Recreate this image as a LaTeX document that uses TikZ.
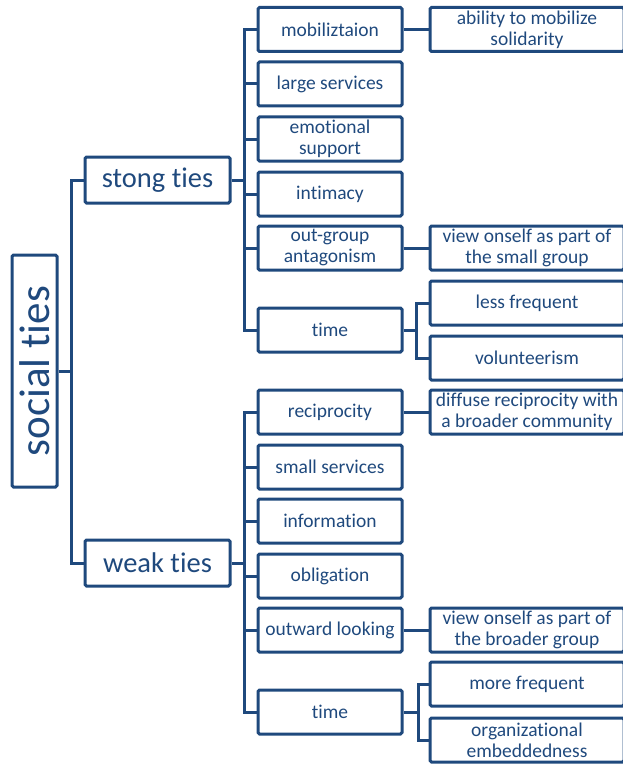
\documentclass[tikz,border=0pt]{standalone}
\usepackage{fontspec}
\setmainfont{Carlito}[RawFeature={-liga}]
\definecolor{tieblue}{RGB}{31,73,125}
\begin{document}
\begin{tikzpicture}[x=1pt,y=-1pt,
  every node/.style={draw=tieblue, line width=3pt, rounded corners=1.5pt, text=tieblue, align=center, inner sep=0pt},
  rootbox/.style={minimum width=232pt, minimum height=45pt, rotate=90, font=\fontsize{43}{46}\selectfont},
  lvlone/.style={minimum width=145pt, minimum height=46pt, font=\fontsize{28.5}{30}\selectfont},
  lvltwo/.style={minimum width=144pt, minimum height=44pt, font=\fontsize{19.5}{21}\selectfont},
  lvlthree/.style={minimum width=194pt, minimum height=44pt, font=\fontsize{19.5}{21}\selectfont},
  conn/.style={draw=tieblue, line width=3pt}
]
\useasboundingbox (0,0) rectangle (623,765);
\clip (0,0) rectangle (623,765);

\node[rootbox] (root) at (34.5,371) {social ties};
\node[lvlone] (strong) at (157.5,180) {stong ties};
\node[lvlone] (weak) at (157.5,563) {weak ties};

% strong ties children
\node[lvltwo] (mob) at (330,29.5) {mobiliztaion};
\node[lvltwo] (large) at (330,84) {large services};
\node[lvltwo] (emo) at (330,139) {emotional\\support};
\node[lvltwo] (inti) at (330,194) {intimacy};
\node[lvltwo] (outg) at (330,248) {out-group\\antagonism};
\node[lvltwo] (timeA) at (330,330) {time};

\node[lvlthree] (abil) at (527,29.5) {ability to mobilize\\solidarity};
\node[lvlthree] (viewA) at (527,248) {view onself as part of\\the small group};
\node[lvlthree] (less) at (527,303) {less frequent};
\node[lvlthree] (volu) at (527,358) {volunteerism};

% weak ties children
\node[lvltwo] (reci) at (330,412) {reciprocity};
\node[lvltwo] (small) at (330,467) {small services};
\node[lvltwo] (info) at (330,521) {information};
\node[lvltwo] (obli) at (330,576) {obligation};
\node[lvltwo] (outw) at (330,630) {outward looking};
\node[lvltwo] (timeB) at (330,712) {time};

\node[lvlthree] (diff) at (527,412) {diffuse reciprocity with\\a broader community};
\node[lvlthree] (viewB) at (527,630) {view onself as part of\\the broader group};
\node[lvlthree] (more) at (527,684) {more frequent};
\node[lvlthree] (orga) at (527,740) {organizational\\embeddedness};

% bus coordinates
\coordinate (b0) at (71,371);
\coordinate (bs) at (244,180);
\coordinate (bw) at (244,563);
\coordinate (bta) at (416,330);
\coordinate (btb) at (418,712);

\draw[conn] (root.south) -- (b0);
\draw[conn] (b0) |- (strong.west);
\draw[conn] (b0) |- (weak.west);

\draw[conn] (strong.east) -- (bs);
\foreach \n in {mob,large,emo,inti,outg,timeA} {\draw[conn] (bs) |- (\n.west);}
\draw[conn] (weak.east) -- (bw);
\foreach \n in {reci,small,info,obli,outw,timeB} {\draw[conn] (bw) |- (\n.west);}

\draw[conn] (mob.east) -- (abil.west);
\draw[conn] (outg.east) -- (viewA.west);
\draw[conn] (timeA.east) -- (bta);
\draw[conn] (bta) |- (less.west);
\draw[conn] (bta) |- (volu.west);

\draw[conn] (reci.east) -- (diff.west);
\draw[conn] (outw.east) -- (viewB.west);
\draw[conn] (timeB.east) -- (btb);
\draw[conn] (btb) |- (more.west);
\draw[conn] (btb) |- (orga.west);
\end{tikzpicture}
\end{document}
